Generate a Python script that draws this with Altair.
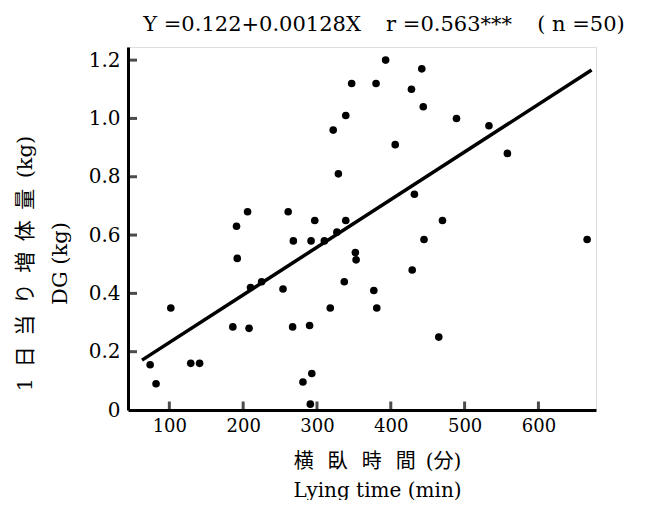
import altair as alt
import pandas as pd

# Scatter data: lying time (min) and daily gain (kg)
lying_min = [393, 347, 380, 339, 322, 329, 206, 191, 261, 297,
             339, 327, 442, 428, 444, 489, 533, 406, 558, 432,
             470, 445, 666, 268, 292, 310, 352, 353, 192, 225,
             210, 254, 337, 377, 381, 318, 102, 186, 208, 267,
             290, 74, 129, 141, 82, 281, 293, 291, 429, 465]
daily_gain = [1.20, 1.12, 1.12, 1.01, 0.96, 0.81, 0.68, 0.63, 0.68, 0.65,
              0.65, 0.61, 1.17, 1.10, 1.04, 1.00, 0.975, 0.91, 0.88, 0.74,
              0.65, 0.585, 0.585, 0.58, 0.58, 0.58, 0.54, 0.515, 0.52, 0.44,
              0.42, 0.415, 0.44, 0.41, 0.35, 0.35, 0.35, 0.285, 0.28, 0.285,
              0.29, 0.155, 0.16, 0.16, 0.09, 0.096, 0.125, 0.02, 0.48, 0.25]

# Regression line as drawn
line_x = [63, 672]
line_y = [0.171, 1.166]

x_ticks = [100, 200, 300, 400, 500, 600]
y_ticks = [0.2, 0.4, 0.6, 0.8, 1.0, 1.2]
y_labels = [0, 0.2, 0.4, 0.6, 0.8, 1.0, 1.2]

EN = "\u2002"   # en space
EM = "\u2003"   # em space
TH = "\u2009"   # thin space
title_text = "Y =0.122+0.00128X" + EM + TH + "r =0.563***" + EM + TH + "( n =50)"
x_title = [(EN + TH).join(["横", "臥", "時", "間"]) + EN + "(分)", "Lying time (min)"]
y_title = [EN.join(["1", "日", "当", "り", "増", "体", "量", "(kg)"]), "DG (kg)"]

SERIF = "DejaVu Serif, Noto Sans CJK JP"

pts = pd.DataFrame({"x": lying_min, "y": daily_gain})
ln = pd.DataFrame({"x": line_x, "y": line_y})
xt = pd.DataFrame({"v": x_ticks})
yt = pd.DataFrame({"v": y_ticks})

xscale = alt.Scale(domain=[44, 678], nice=False, zero=False)
yscale = alt.Scale(domain=[0, 1.245], nice=False, zero=False)

xaxis = alt.Axis(values=x_ticks, ticks=False, grid=False, domainColor="black",
                 domainWidth=3, labelFont=SERIF, labelFontSize=18, labelColor="black",
                 labelPadding=7, title=x_title, titleFont=SERIF, titleFontSize=20,
                 titleFontWeight="normal", titleColor="black", titleLineHeight=29,
                 titleX=249, titleY=41, titleBaseline="top")
yaxis = alt.Axis(values=y_labels, ticks=False, grid=False, domainColor="black",
                 domainWidth=3, labelFont=SERIF, labelFontSize=20, labelColor="black",
                 labelPadding=8,
                 labelExpr="datum.value == 0 ? '0' : format(datum.value, '.1f')",
                 title=y_title, titleFont=SERIF, titleFontSize=21,
                 titleFontWeight="normal", titleColor="black", titleLineHeight=35,
                 titleX=-103, titleY=216, titleAngle=-90, titleAlign="center",
                 titleBaseline="middle")

points = alt.Chart(pts).mark_circle(size=58, color="black", opacity=1).encode(
    x=alt.X("x:Q", scale=xscale, axis=xaxis),
    y=alt.Y("y:Q", scale=yscale, axis=yaxis),
)
line = alt.Chart(ln).mark_line(color="black", strokeWidth=3.5).encode(
    x=alt.X("x:Q", scale=xscale), y=alt.Y("y:Q", scale=yscale)
)
xtick = alt.Chart(xt).mark_tick(orient="vertical", size=9, thickness=3, color="black").encode(
    x=alt.X("v:Q", scale=xscale), y=alt.value(359)
)
ytick = alt.Chart(yt).mark_tick(orient="horizontal", size=10, thickness=3, color="black").encode(
    y=alt.Y("v:Q", scale=yscale), x=alt.value(4)
)

chart = alt.layer(line, points, xtick, ytick).properties(
    width=468, height=363,
    title=alt.TitleParams(text=title_text, font=SERIF, fontSize=21, fontWeight="normal",
                          color="black", anchor="middle", dx=22, offset=12),
    autosize=alt.AutoSizeParams(type="none"),
    padding={"left": 120, "top": 39, "right": 34, "bottom": 90},
).configure_view(stroke=None).configure(background="white")

chart.save("out.html", embed_options={"renderer": "svg", "actions": False})
